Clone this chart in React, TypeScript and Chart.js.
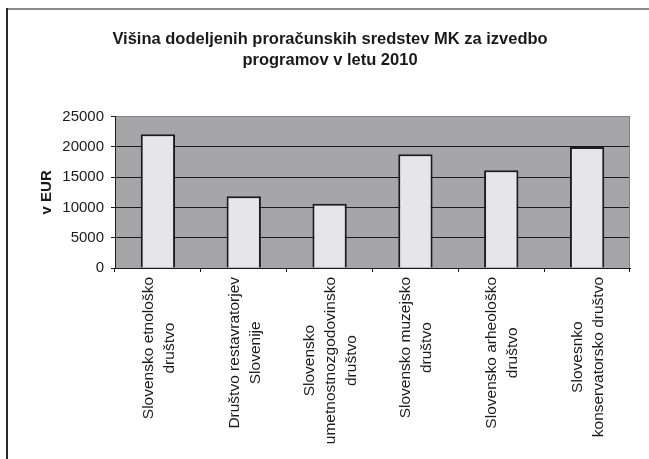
import { useEffect, useRef } from "react";
import { Chart, registerables } from "chart.js";

Chart.register(...registerables);

const titleLines = [
  "Višina dodeljenih proračunskih sredstev MK za izvedbo",
  "programov v letu 2010",
];
const yAxisTitle = "v EUR";
const categories: string[][] = [
  ["Slovensko etnološko", "društvo"],
  ["Društvo restavratorjev", "Slovenije"],
  ["Slovensko", "umetnostnozgodovinsko", "društvo"],
  ["Slovensko muzejsko", "društvo"],
  ["Slovensko arheološko", "društvo"],
  ["Slovesnko", "konservatorsko društvo"],
];
const values = [22100, 11850, 10600, 18800, 16150, 20000];
const yMin = 0;
const yMax = 25000;
const yStep = 5000;

const FONT = "'Liberation Sans', Arial, sans-serif";

export default function App() {
  const ref = useRef<HTMLCanvasElement | null>(null);

  useEffect(() => {
    const canvas = ref.current;
    if (!canvas) return;

    const decor = {
      id: "decor",
      beforeDraw(chart: any) {
        const { ctx, chartArea: a } = chart;
        ctx.save();
        ctx.fillStyle = "#ffffff";
        ctx.fillRect(0, 0, chart.width, chart.height);
        // outer frame (top & left)
        ctx.fillStyle = "#8a8a8a";
        ctx.fillRect(7, 8, 642, 2);
        ctx.fillStyle = "#2a2a2a";
        ctx.fillRect(6, 8, 2, chart.height - 8);
        // plot background
        ctx.fillStyle = "#a6a6a9";
        ctx.fillRect(a.left, a.top, a.right - a.left, a.bottom - a.top);
        ctx.restore();
      },
      afterDatasetsDraw(chart: any) {
        const { ctx, chartArea: a } = chart;
        ctx.save();
        ctx.strokeStyle = "#808080";
        ctx.lineWidth = 1;
        ctx.beginPath();
        ctx.moveTo(Math.round(a.right) - 0.5, a.top);
        ctx.lineTo(Math.round(a.right) - 0.5, a.bottom);
        ctx.stroke();
        ctx.restore();
      },
      afterDraw(chart: any) {
        const { ctx, chartArea: a } = chart;
        const xs = chart.scales.x;
        ctx.save();
        ctx.font = `15.5px ${FONT}`;
        ctx.fillStyle = "#1a1a1a";
        ctx.textBaseline = "middle";
        ctx.textAlign = "center";
        categories.forEach((lines, i) => {
          const cx = xs.getPixelForValue(i) + 1;
          const maxW = Math.max(...lines.map((l) => ctx.measureText(l).width));
          const cy = a.bottom + 9 + maxW / 2;
          lines.forEach((line, j) => {
            const x = cx + (j - (lines.length - 1) / 2) * 21;
            ctx.save();
            ctx.translate(x, cy);
            ctx.rotate(-Math.PI / 2);
            ctx.fillText(line, 0, 0);
            ctx.restore();
          });
        });
        ctx.restore();
      },
    };

    const chart = new Chart(canvas, {
      type: "bar",
      data: {
        labels: categories.map((c) => c.join(" ")),
        datasets: [
          {
            data: values,
            backgroundColor: "#e6e6e8",
            borderColor: "#1c1c1c",
            borderWidth: 2,
            barPercentage: 0.4,
            categoryPercentage: 1,
          },
        ],
      },
      options: {
        responsive: false,
        animation: false,
        devicePixelRatio: 1,
        layout: { padding: { left: 30, right: 19, top: 0, bottom: 0 } },
        plugins: {
          legend: { display: false },
          tooltip: { enabled: false },
          title: {
            display: true,
            text: titleLines,
            color: "#1a1a1a",
            font: { family: FONT, size: 16.5, weight: "bold", lineHeight: 21 / 16.5 },
            padding: { top: 28.5, bottom: 46.2 },
          },
        },
        scales: {
          x: {
            offset: true,
            grid: {
              display: true,
              offset: true,
              drawOnChartArea: false,
              drawTicks: true,
              tickLength: 4,
              color: "#1a1a1a",
            },
            border: { display: true, color: "#1a1a1a", width: 1 },
            ticks: { display: false },
            afterFit: (s: any) => {
              s.height = 191;
            },
          },
          y: {
            min: yMin,
            max: yMax,
            ticks: {
              stepSize: yStep,
              color: "#1a1a1a",
              padding: 7,
              font: { family: FONT, size: 15 },
              callback: (v: any) => String(v),
            },
            grid: {
              color: (c: any) => (c.tick && c.tick.value === yMax ? "#808080" : "#1a1a1a"),
              tickColor: "#1a1a1a",
              tickLength: 4,
              drawTicks: true,
            },
            border: { display: true, color: "#1a1a1a", width: 1 },
            title: {
              display: true,
              text: yAxisTitle,
              color: "#1a1a1a",
              font: { family: FONT, size: 15, weight: "bold", lineHeight: 1.2 },
              padding: { top: 7.5, bottom: 0 },
            },
            afterFit: (s: any) => {
              s.width = 85;
            },
          },
        },
      },
      plugins: [decor],
    });

    return () => chart.destroy();
  }, []);

  return (
    <div
      style={{
        position: "fixed",
        left: 0,
        top: 0,
        width: 649,
        height: 459,
        background: "#fff",
      }}
    >
      <canvas ref={ref} width={649} height={459} style={{ display: "block" }} />
    </div>
  );
}
